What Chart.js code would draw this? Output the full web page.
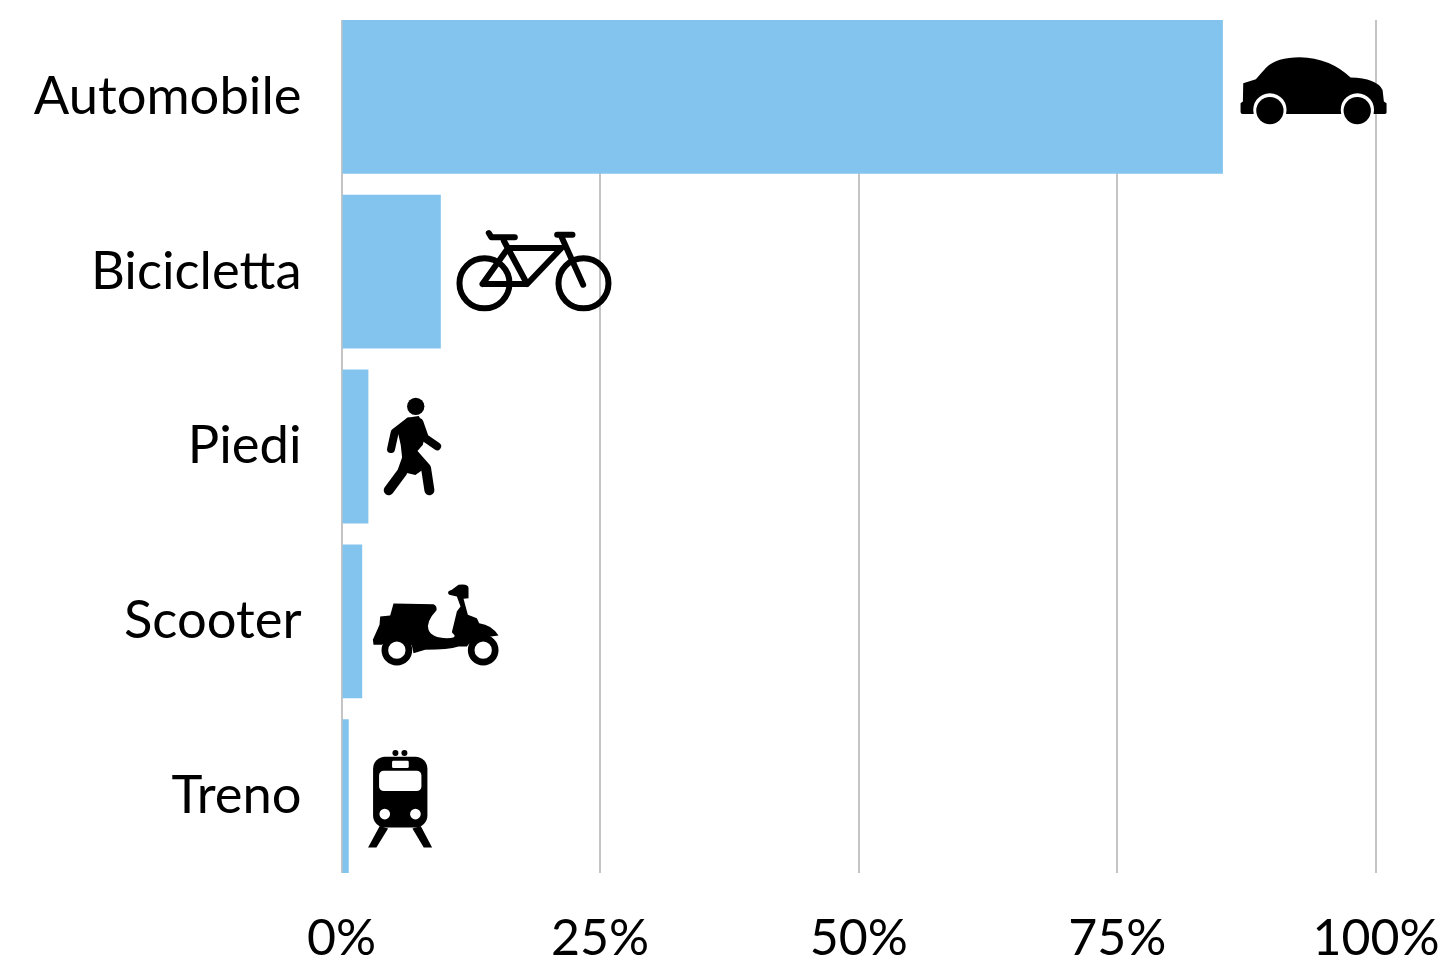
<!DOCTYPE html>
<html><head><meta charset="utf-8">
<style>html,body{margin:0;padding:0;background:#fff}#w{width:1445px;height:961px}</style>
<script src="https://cdn.jsdelivr.net/npm/chart.js@4"></script></head>
<body><div id="w"><canvas id="c"></canvas></div>
<script>
const categories = ["Automobile","Bicicletta","Piedi","Scooter","Treno"];
const shares = [85.2, 9.6, 2.6, 2.0, 0.7];
const xTicks = [0, 25, 50, 75, 100];
const FONT = "Lato";

const BAR = "#83c4ee", GRID = "#c4c4c4";

// Pictograms, drawn in a local 3x unit box; [anchorX, anchorY] maps to the bar end and row centre.
const icons = [
 {a:[9,171], draw(g){
   g.fill(new Path2D("M70 130 L108 118 Q125 98 140 82 Q170 52 240 52 Q330 54 392 113 Q470 115 488 150 L492 185 L500 190 L500 218 Q500 222 495 222 L461 222 A50 50 0 1 0 364 222 L198.5 222 A50 50 0 1 0 101.5 222 L68 222 Q62 222 62 216 L62 190 L69 185 Z"));
   circle(g,150,212,41); circle(g,412,212,41);
 }},
 {a:[3,171], draw(g){
   g.lineWidth=18; g.lineCap="round"; g.lineJoin="round";
   ring(g,134,206,75); ring(g,431,206,75);
   g.stroke(new Path2D("M128 208 L262 208 L365 100 L205 100 L128 208 M192 78 L262 208 M365 66 L430 210 M147 55 L155 68 L225 68 M352 60 L398 60"));
 }},
 {a:[99,184.5], draw(g){
   circle(g,241,64,26);
   g.lineCap="round"; g.lineJoin="round";
   g.fill(new Path2D("M215 98 L250 93 Q264 112 270 150 L262 180 L244 200 L282 240 L240 270 L205 262 L196 180 L186 135 Z"));
   g.lineWidth=24; g.stroke(new Path2D("M220 110 L178 142 L167 192 M252 112 L268 158 L305 184"));
   g.lineWidth=30; g.stroke(new Path2D("M224 195 L200 262 L160 316 M224 195 L272 250 L282 316"));
 }},
 {a:[81,139.5], draw(g){
   g.lineWidth=20; ring(g,185,226,36); ring(g,444,226,36);
   g.fill(new Path2D("M175 86 L295 88 Q306 92 304 106 Q272 140 280 165 Q290 190 335 190 Q362 190 358 181 L350 172 L365 110 L376 95 L365 65 L342 60 Q332 50 350 45 L370 30 Q400 26 400 40 L400 70 L385 72 L398 120 L425 130 L432 145 Q470 150 490 182 L430 190 Q410 195 395 215 L370 215 Q340 225 270 225 L235 235 L230 212 Q200 190 160 195 L140 210 L115 210 L113 195 L133 150 L135 125 L165 122 Z"));
 }},
 {a:[42,168], draw(g){
   const b=new Path2D(); b.roundRect(115,50,163,212,36); g.fill(b);
   g.fill(new Path2D("M135 258 L100 322 L125 322 L160 265 Z M258 258 L292 322 L267 322 L233 265 Z"));
   circle(g,182,39,9); circle(g,209,39,9);
   g.fillStyle="#fff";
   const w=new Path2D(); w.roundRect(133,92,127,61,14); g.fill(w);
   const s=new Path2D(); s.roundRect(172,62,50,22,4); g.fill(s);
   circle(g,150,222,16); circle(g,242,222,16);
 }}
];
function circle(g,x,y,r){g.beginPath();g.arc(x,y,r,0,Math.PI*2);g.fill();}
function ring(g,x,y,r){g.beginPath();g.arc(x,y,r,0,Math.PI*2);g.stroke();}

const iconPlugin = {id:"icons", afterDatasetsDraw(chart){
  const g=chart.ctx, xs=chart.scales.x, ys=chart.scales.y;
  icons.forEach((ic,i)=>{
    g.save();
    g.translate(xs.getPixelForValue(shares[i]), ys.getPixelForValue(i));
    g.scale(1/3,1/3);
    g.translate(-ic.a[0],-ic.a[1]);
    g.fillStyle="#000"; g.strokeStyle="#000";
    ic.draw(g);
    g.restore();
  });
}};
const noPad = s => {s.paddingTop=s.paddingBottom=s.paddingLeft=s.paddingRight=0;};

new Chart(document.getElementById("c"),{
  type:"bar",
  plugins:[iconPlugin],
  data:{datasets:[{
    data:shares.map((v,i)=>({x:v,y:i})),
    backgroundColor:BAR, borderWidth:0,
    barPercentage:0.88, categoryPercentage:1
  }]},
  options:{
    indexAxis:"y", responsive:true, maintainAspectRatio:false, animation:false,
    layout:{padding:{top:20,right:69,bottom:0,left:0}},
    plugins:{legend:{display:false},tooltip:{enabled:false}},
    scales:{
      x:{type:"linear",min:0,max:100,
        afterBuildTicks:s=>{s.ticks=xTicks.map(value=>({value}));},
        afterFit:s=>{s.height=88;noPad(s);},
        grid:{color:GRID,lineWidth:2,drawTicks:false},border:{display:false},
        ticks:{padding:36,maxRotation:0,autoSkip:false,color:"#000",font:{family:FONT,size:50},callback:v=>v+"%"}},
      y:{type:"linear",reverse:true,offset:false,min:-0.44,max:4.44,
        afterBuildTicks:s=>{s.ticks=categories.map((_,i)=>({value:i}));},
        afterFit:s=>{s.width=341.5;noPad(s);},
        grid:{display:false,offset:false},border:{display:false},
        ticks:{padding:32,autoSkip:false,color:"#000",font:{family:FONT,size:52.5},callback:v=>categories[v]}}
    }
  }
});
</script></body></html>
